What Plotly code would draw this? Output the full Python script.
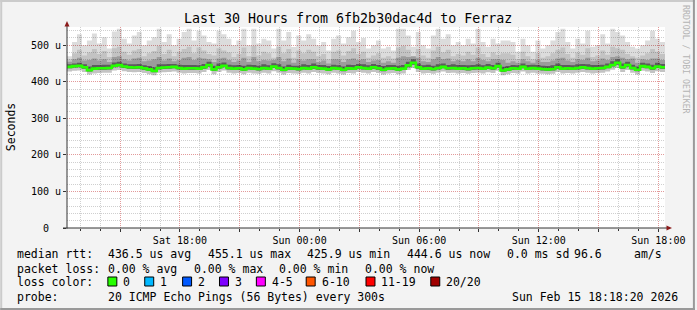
import plotly.graph_objects as go
import pandas as pd

# ---------------- data (microseconds, one value per 15 minutes) ----------------
start_time = "2026-02-14 12:20:00"

rtt_median = [
    441, 443, 444, 440, 432, 436, 437, 437, 438, 444, 446, 442, 440, 439, 440, 437, 434, 430, 438, 439, 440, 441, 438, 436, 437, 437, 436, 440, 446, 434,
    440, 444, 438, 436, 437, 434, 438, 436, 435, 438, 436, 442, 438, 433, 437, 436, 435, 438, 436, 440, 437, 436, 434, 438, 436, 433, 437, 436, 440, 438,
    436, 440, 437, 433, 436, 437, 434, 436, 445, 452, 440, 436, 437, 435, 438, 441, 437, 438, 436, 437, 435, 437, 438, 436, 439, 437, 443, 431, 434, 437,
    436, 441, 436, 438, 436, 435, 434, 435, 440, 436, 437, 436, 438, 440, 438, 436, 437, 438, 441, 446, 452, 440, 446, 438, 433, 443, 441, 437, 442, 440,
]
rtt_max = [
    470, 509, 530, 500, 513, 532, 505, 522, 491, 538, 545, 518, 505, 527, 536, 500, 513, 522, 545, 509, 530, 500, 518, 536, 545, 513, 540, 527, 509, 505,
    540, 530, 518, 500, 513, 545, 500, 545, 505, 518, 513, 491, 545, 513, 536, 495, 527, 513, 530, 518, 500, 509, 486, 518, 527, 505, 522, 540, 509, 520,
    491, 500, 513, 491, 496, 486, 545, 545, 527, 496, 536, 500, 491, 527, 545, 518, 530, 500, 509, 500, 518, 505, 545, 509, 496, 518, 505, 513, 513, 509,
    482, 518, 500, 482, 513, 491, 500, 513, 536, 545, 509, 491, 518, 505, 540, 496, 500, 530, 505, 545, 536, 527, 509, 496, 491, 500, 513, 540, 518, 509,
]
rtt_p90 = [
    462, 478, 488, 472, 480, 490, 476, 484, 468, 492, 496, 482, 474, 486, 490, 470, 478, 484, 498, 476, 488, 470, 482, 490, 496, 478, 494, 486, 476, 472,
    492, 486, 480, 468, 476, 494, 470, 498, 472, 482, 478, 466, 496, 478, 490, 466, 486, 478, 488, 482, 470, 476, 462, 482, 486, 472, 484, 492, 476, 482,
    466, 472, 478, 466, 470, 464, 494, 498, 488, 470, 490, 472, 466, 486, 496, 480, 488, 470, 476, 472, 482, 474, 494, 476, 468, 480, 474, 478, 478, 474,
    462, 482, 470, 462, 478, 466, 470, 478, 488, 494, 476, 466, 480, 474, 492, 468, 472, 486, 474, 496, 492, 488, 476, 470, 466, 472, 478, 490, 482, 476,
]
rtt_p75 = [
    455, 462, 466, 458, 460, 464, 458, 462, 454, 468, 470, 462, 458, 464, 466, 456, 458, 462, 468, 458, 464, 456, 460, 466, 468, 460, 466, 464, 462, 454,
    464, 466, 460, 454, 458, 466, 454, 468, 456, 460, 458, 460, 468, 456, 464, 452, 462, 458, 462, 462, 454, 458, 450, 462, 462, 454, 462, 464, 460, 462,
    454, 458, 460, 452, 456, 452, 466, 470, 468, 470, 466, 456, 454, 462, 468, 462, 464, 456, 460, 456, 462, 456, 466, 460, 456, 462, 462, 460, 452, 456,
    452, 462, 456, 452, 460, 454, 454, 458, 464, 466, 458, 454, 462, 460, 466, 456, 458, 464, 460, 468, 470, 466, 462, 464, 452, 462, 460, 464, 464, 460,
]
rtt_p60 = [
    448, 450, 452, 448, 442, 446, 446, 447, 447, 453, 455, 450, 448, 448, 449, 445, 443, 440, 448, 448, 449, 449, 447, 446, 446, 446, 445, 449, 455, 444,
    450, 453, 447, 445, 446, 444, 447, 446, 444, 448, 445, 451, 448, 442, 447, 444, 444, 448, 446, 450, 446, 446, 443, 447, 445, 442, 447, 446, 449, 448,
    445, 449, 446, 443, 446, 446, 444, 446, 455, 462, 450, 445, 447, 444, 448, 450, 446, 448, 446, 446, 445, 446, 448, 445, 449, 446, 452, 441, 443, 446,
    445, 450, 446, 447, 446, 444, 443, 445, 450, 446, 446, 445, 448, 449, 448, 446, 446, 447, 450, 456, 462, 450, 455, 447, 442, 452, 450, 447, 452, 449,
]
rtt_p40 = [
    437, 439, 440, 436, 428, 432, 433, 433, 434, 440, 442, 438, 436, 435, 436, 433, 430, 426, 434, 435, 436, 437, 434, 432, 433, 433, 432, 436, 441, 430,
    436, 440, 434, 432, 433, 430, 434, 432, 431, 434, 432, 438, 434, 429, 433, 432, 431, 434, 432, 436, 433, 432, 430, 434, 432, 429, 433, 432, 436, 434,
    432, 436, 433, 429, 432, 433, 430, 432, 440, 447, 436, 432, 433, 431, 434, 437, 433, 434, 432, 433, 431, 433, 434, 432, 435, 433, 439, 427, 430, 433,
    432, 437, 432, 434, 432, 431, 430, 431, 436, 432, 433, 432, 434, 436, 434, 432, 433, 434, 437, 442, 447, 436, 441, 434, 429, 439, 437, 433, 438, 436,
]
rtt_min = [
    428, 430, 431, 427, 420, 423, 424, 425, 425, 431, 432, 429, 427, 426, 427, 424, 421, 418, 425, 426, 427, 428, 425, 423, 424, 424, 423, 427, 432, 421,
    427, 431, 425, 423, 424, 421, 425, 423, 422, 425, 423, 429, 425, 420, 424, 423, 422, 425, 423, 427, 424, 423, 421, 425, 423, 420, 424, 423, 427, 425,
    423, 427, 424, 420, 423, 424, 421, 423, 432, 438, 427, 423, 424, 422, 425, 428, 424, 425, 423, 424, 422, 424, 425, 423, 426, 424, 430, 418, 421, 424,
    423, 428, 423, 425, 423, 422, 421, 422, 427, 423, 424, 423, 425, 427, 425, 423, 424, 425, 428, 433, 438, 427, 432, 425, 420, 430, 428, 424, 429, 427,
]

x_tick_times = ["2026-02-14 15:00", "2026-02-14 18:00", "2026-02-14 21:00", "2026-02-15 00:00",
                "2026-02-15 03:00", "2026-02-15 06:00", "2026-02-15 09:00", "2026-02-15 12:00",
                "2026-02-15 15:00", "2026-02-15 18:00"]
x_tick_labels = ["", "Sat 18:00", "", "Sun 00:00", "", "Sun 06:00", "", "Sun 12:00", "", "Sun 18:00"]
y_tick_vals = [0, 100, 200, 300, 400, 500]
y_tick_labels = ["0\u00a0\u00a0", "100 u", "200 u", "300 u", "400 u", "500 u"]

title_text = "Last 30 Hours from 6fb2b30dac4d to Ferraz"
legend_row1 = ["median rtt:", "436.5 us avg", "455.1 us max", "425.9 us min", "444.6 us now", "0.0 ms sd", "96.6", "am/s"]
legend_row2 = ["packet loss:", "0.00 % avg", "0.00 % max", "0.00 % min", "0.00 % now"]
loss_labels = ["0", "1", "2", "3", "4-5", "6-10", "11-19", "20/20"]
loss_colors = ["#26ff00", "#00b8ff", "#0059ff", "#7e00ff", "#ff00ff", "#ff5500", "#ff0000", "#a00000"]
probe_text = "20 ICMP Echo Pings (56 Bytes) every 300s"
stamp_text = "Sun Feb 15 18:18:20 2026"

# ---------------- layout geometry (pixels) ----------------
W, H = 697, 310
L, R, T, B = 67, 667, 27, 228
MONO = "DejaVu Sans Mono"


def px(x):
    return (x - L) / (R - L)


def py(y):
    return (B - y) / (B - T)


times = pd.date_range(start_time, periods=len(rtt_median) + 1, freq="15min")


def ext(a):
    return list(a) + [a[-1]]


fig = go.Figure()

bands = [
    (rtt_min, rtt_max, "rgba(0,0,0,0.137)"),
    (rtt_min, rtt_p90, "rgba(0,0,0,0.11)"),
    (rtt_p40, rtt_p75, "rgba(0,0,0,0.20)"),
    (rtt_p40, rtt_p60, "rgba(0,0,0,0.41)"),
]
for lo, hi, col in bands:
    fig.add_trace(go.Scatter(x=times, y=ext(lo), mode="lines", line=dict(width=0, shape="hv"),
                             hoverinfo="skip", showlegend=False))
    fig.add_trace(go.Scatter(x=times, y=ext(hi), mode="lines", line=dict(width=0, shape="hv"),
                             fill="tonexty", fillcolor=col, hoverinfo="skip", showlegend=False))

fig.add_trace(go.Scatter(x=times, y=ext(rtt_median), mode="lines",
                         line=dict(color=loss_colors[0], width=2.6, shape="hv"),
                         hoverinfo="skip", showlegend=False))

fig.update_layout(
    width=W, height=H, autosize=False,
    margin=dict(l=L, r=W - R, t=T, b=H - B, pad=0),
    paper_bgcolor="#f3f3f3", plot_bgcolor="#ffffff",
    font=dict(family=MONO, size=10, color="#000000"),
    showlegend=False,
    xaxis=dict(
        type="date", range=[times[0], times[-1]],
        tickmode="array", tickvals=x_tick_times, ticktext=x_tick_labels,
        showgrid=True, gridcolor="#e29a9a", griddash="1px,1px", gridwidth=1,
        ticks="outside", ticklen=3, tickcolor="#333333", tickfont=dict(family=MONO, size=10),
        showline=False, zeroline=False,
        minor=dict(tick0="2026-02-14 13:00", dtick=3600000, showgrid=True, gridcolor="#cfcfcf",
                   griddash="1px,1px", ticks="outside", ticklen=2, tickcolor="#333333"),
        fixedrange=True,
    ),
    yaxis=dict(
        range=[0, 550], tickmode="array", tickvals=y_tick_vals, ticktext=y_tick_labels,
        showgrid=True, gridcolor="#e29a9a", griddash="1px,1px", gridwidth=1,
        ticks="outside", ticklen=3, tickcolor="#333333", tickfont=dict(family=MONO, size=10),
        showline=False, zeroline=False,
        minor=dict(tick0=0, dtick=20, showgrid=True, gridcolor="#cfcfcf", griddash="1px,1px"),
        fixedrange=True,
    ),
)

shapes = []
# border (3D frame)
shapes.append(dict(type="rect", xref="paper", yref="paper", x0=px(0), x1=px(2), y0=py(H), y1=py(0),
                   fillcolor="#cbcbcb", line=dict(width=0)))
shapes.append(dict(type="rect", xref="paper", yref="paper", x0=px(0), x1=px(W), y0=py(2), y1=py(0),
                   fillcolor="#cbcbcb", line=dict(width=0)))
shapes.append(dict(type="rect", xref="paper", yref="paper", x0=px(W - 2), x1=px(W), y0=py(H), y1=py(0),
                   fillcolor="#999999", line=dict(width=0)))
shapes.append(dict(type="rect", xref="paper", yref="paper", x0=px(0), x1=px(W), y0=py(H), y1=py(H - 2),
                   fillcolor="#999999", line=dict(width=0)))
# axes lines
shapes.append(dict(type="line", xref="paper", yref="paper", x0=px(67), x1=px(67), y0=py(228.5), y1=py(25),
                   line=dict(color="#333333", width=1)))
shapes.append(dict(type="line", xref="paper", yref="paper", x0=px(63), x1=px(669), y0=py(228), y1=py(228),
                   line=dict(color="#333333", width=1)))
# arrows
shapes.append(dict(type="path", xref="paper", yref="paper",
                   path=f"M {px(67)},{py(21)} L {px(64.5)},{py(26.5)} L {px(69.5)},{py(26.5)} Z",
                   fillcolor="#8b1a1a", line=dict(width=0)))
shapes.append(dict(type="path", xref="paper", yref="paper",
                   path=f"M {px(674)},{py(228)} L {px(668.5)},{py(225.5)} L {px(668.5)},{py(230.5)} Z",
                   fillcolor="#8b1a1a", line=dict(width=0)))

annotations = []


def text(x, y, s, size=11.5, anchor="left", color="#000000", angle=0):
    annotations.append(dict(x=px(x), y=py(y), xref="paper", yref="paper", text=s, showarrow=False,
                            xanchor=anchor, yanchor="middle", textangle=angle, borderpad=0,
                            font=dict(family=MONO, size=size, color=color)))


text(348.5, 18, title_text, size=13.3, anchor="center")
text(11, 127, "Seconds", size=11.5, anchor="center", angle=-90)
text(688, 60, "RRDTOOL / TOBI OETIKER", size=8.2, anchor="center", color="#b4b4b4", angle=90)

row1_x = [16, 107, 207, 307, 407, 507, 575, 635]
for x, s in zip(row1_x, legend_row1):
    text(x, 254, s)
row2_x = [16, 107, 193, 279, 365]
for x, s in zip(row2_x, legend_row2):
    text(x, 268.5, s)
text(16, 282, "loss color:")
box_x = [108, 145, 183, 220, 257, 307, 367, 432]
for bx, lab, col in zip(box_x, loss_labels, loss_colors):
    shapes.append(dict(type="rect", xref="paper", yref="paper", x0=px(bx), x1=px(bx + 9),
                       y0=py(286), y1=py(277), fillcolor=col, line=dict(color="#000000", width=1)))
    text(bx + 14.5, 282, lab)
text(16, 296.5, "probe:")
text(107, 296.5, probe_text)
text(681, 296.5, stamp_text, anchor="right")

fig.update_layout(shapes=shapes, annotations=annotations)

fig.write_html("out.html", config={"displayModeBar": False, "staticPlot": True})
